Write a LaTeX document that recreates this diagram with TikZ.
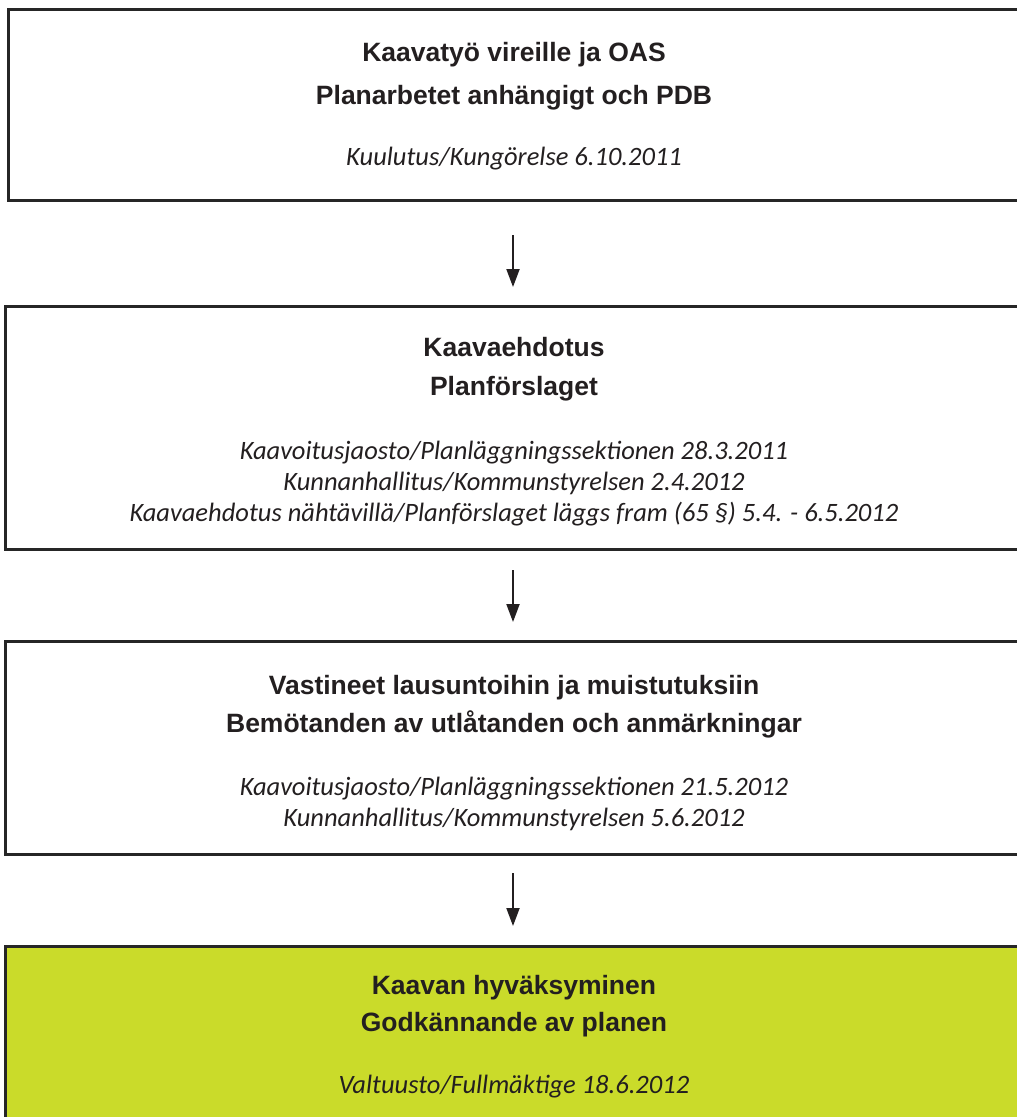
\documentclass[tikz,border=0pt]{standalone}
\usepackage{fontspec}
\usetikzlibrary{arrows.meta}
\newfontfamily\headfont{Liberation Sans}
\newfontfamily\subfont{Carlito}
\definecolor{txt}{HTML}{231F20}
\definecolor{edge}{HTML}{262626}
\definecolor{lime}{HTML}{CADB2A}
\begin{document}
\begin{tikzpicture}[x=1pt,y=-1pt,
  box/.style={draw=edge, line width=3pt, rectangle, inner sep=0pt, outer sep=0pt},
  head/.style={anchor=base, inner sep=0pt, text=txt, font=\headfont\bfseries\fontsize{26.5}{30}\selectfont},
  sub/.style={anchor=base, inner sep=0pt, text=txt, font=\subfont\itshape\fontsize{26.5}{30}\selectfont},
  arr/.style={draw=txt, line width=2pt, -{Triangle[length=18pt,width=13pt]}}]
\useasboundingbox (0,0) rectangle (1017,1117);
\clip (0,0) rectangle (1017,1117);
\fill[white] (0,0) rectangle (1017,1117);
% boxes
\node[box, minimum width=1017pt, minimum height=191pt] (b1) at (516.5,104.5) {};
\node[box, minimum width=1020pt, minimum height=243pt] (b2) at (515,427.5) {};
\node[box, minimum width=1020pt, minimum height=213pt] (b3) at (515,747.5) {};
\node[box, fill=lime, minimum width=1020pt, minimum height=184pt] (b4) at (515,1038) {};
% texts box 1
\node[head] (t11) at (514,61) {Kaavatyö vireille ja OAS};
\node[head] (t12) at (514,104) {Planarbetet anhängigt och PDB};
\node[sub] (t13) at (514,165) {Kuulutus/Kungörelse 6.10.2011};
% texts box 2
\node[head] (t21) at (514,356) {Kaavaehdotus};
\node[head] (t22) at (514,395) {Planförslaget};
\node[sub] (t23) at (514,459) {Kaavoitusjaosto/Planläggningssektionen 28.3.2011};
\node[sub] (t24) at (514,490) {Kunnanhallitus/Kommunstyrelsen 2.4.2012};
\node[sub] (t25) at (514,521) {Kaavaehdotus nähtävillä/Planförslaget läggs fram (65 §) 5.4. - 6.5.2012};
% texts box 3
\node[head] (t31) at (514,694) {Vastineet lausuntoihin ja muistutuksiin};
\node[head] (t32) at (514,732) {Bemötanden av utlåtanden och anmärkningar};
\node[sub] (t33) at (514,795) {Kaavoitusjaosto/Planläggningssektionen 21.5.2012};
\node[sub] (t34) at (514,826) {Kunnanhallitus/Kommunstyrelsen 5.6.2012};
% texts box 4
\node[head] (t41) at (514,994) {Kaavan hyväksyminen};
\node[head] (t42) at (514,1031) {Godkännande av planen};
\node[sub] (t43) at (514,1093) {Valtuusto/Fullmäktige 18.6.2012};
% arrows
\coordinate (ax) at (513,0);
\draw[arr, shorten <=35pt, shorten >=19pt] (b1.south -| ax) -- (b2.north -| ax);
\draw[arr, shorten <=21pt, shorten >=19pt] (b2.south -| ax) -- (b3.north -| ax);
\draw[arr, shorten <=19pt, shorten >=20pt] (b3.south -| ax) -- (b4.north -| ax);
\end{tikzpicture}
\end{document}
